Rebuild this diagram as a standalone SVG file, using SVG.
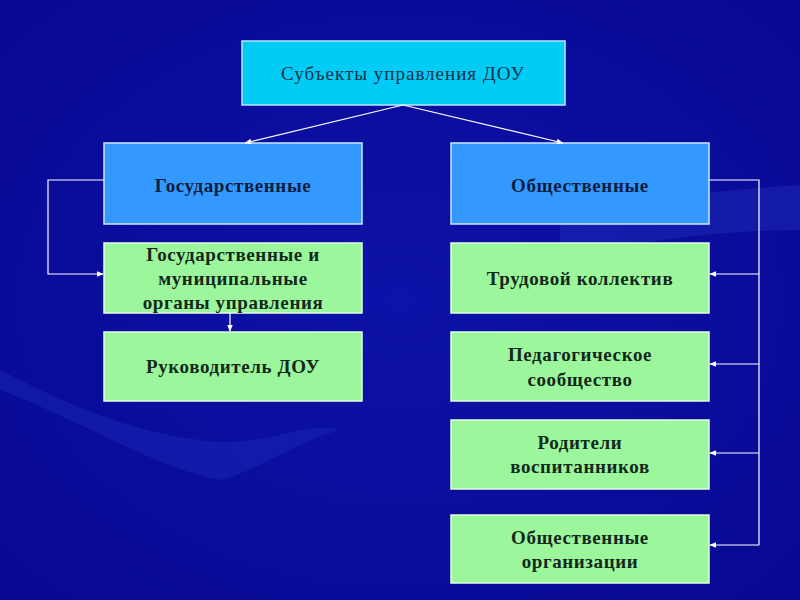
<svg xmlns="http://www.w3.org/2000/svg" width="800" height="600" viewBox="0 0 800 600">
<defs>
<radialGradient id="bg" cx="0.5" cy="0.5" r="0.8">
<stop offset="0" stop-color="#0d12a8"/>
<stop offset="1" stop-color="#07088f"/>
</radialGradient>
<marker id="ah" viewBox="0 0 10 10" refX="9" refY="5" markerWidth="7" markerHeight="7" orient="auto" markerUnits="userSpaceOnUse">
<path d="M0,1 L10,5 L0,9 z" fill="#ffffff"/>
</marker>
<style>
.top{fill:#00ccf5;stroke:#b8e8ff;stroke-width:1.5}
.blue{fill:#3399ff;stroke:#cce6ff;stroke-width:1.5}
.green{fill:#9cf79c;stroke:#e0ffe0;stroke-width:1.5}
.t{font-family:"Liberation Serif",serif;font-size:19px;letter-spacing:0.6px;text-anchor:middle;fill:#13281a;font-weight:bold}
.tt{font-family:"Liberation Serif",serif;font-size:19px;letter-spacing:1px;text-anchor:middle;fill:#15304a}
.tb{fill:#0c1e40}
.c{stroke:#ffffff;stroke-width:1.2;fill:none}
</style>
</defs>
<rect width="800" height="600" fill="url(#bg)"/>
<path d="M0,370 C60,400 120,430 200,440 C260,450 300,420 340,430 C300,440 260,470 220,480 C160,470 80,420 0,390 z" fill="#2030c0" opacity="0.35"/>
<path d="M560,210 C640,200 720,190 800,185 L800,230 C720,230 640,240 560,260 z" fill="#2a40c8" opacity="0.3"/>
<g id="n-top"><rect class="top" x="242" y="41" width="323" height="64"/><text class="tt" x="403" y="80">Субъекты управления ДОУ</text></g>
<g id="n-gos"><rect class="blue" x="104" y="143" width="258" height="81"/><text class="t tb" x="233" y="192">Государственные</text></g>
<g id="n-obs"><rect class="blue" x="451" y="143" width="258" height="81"/><text class="t tb" x="580" y="192">Общественные</text></g>
<g id="n-gmo"><rect class="green" x="104" y="243" width="258" height="70"/><text class="t" x="233" y="261">Государственные и</text><text class="t" x="233" y="285">муниципальные</text><text class="t" x="233" y="309">органы управления</text></g>
<g id="n-ruk"><rect class="green" x="104" y="332" width="258" height="69"/><text class="t" x="233" y="373">Руководитель ДОУ</text></g>
<g id="n-trud"><rect class="green" x="451" y="243" width="258" height="70"/><text class="t" x="580" y="285">Трудовой коллектив</text></g>
<g id="n-ped"><rect class="green" x="451" y="332" width="258" height="69"/><text class="t" x="580" y="361">Педагогическое</text><text class="t" x="580" y="386">сообщество</text></g>
<g id="n-rod"><rect class="green" x="451" y="420" width="258" height="69"/><text class="t" x="580" y="449">Родители</text><text class="t" x="580" y="473">воспитанников</text></g>
<g id="n-org"><rect class="green" x="451" y="515" width="258" height="68"/><text class="t" x="580" y="544">Общественные</text><text class="t" x="580" y="568">организации</text></g>
<g id="connectors">
<line class="c" x1="403" y1="105" x2="245" y2="143" marker-end="url(#ah)"/>
<line class="c" x1="403" y1="105" x2="563" y2="143" marker-end="url(#ah)"/>
<polyline class="c" points="104,180 48,180 48,274 103,274" marker-end="url(#ah)"/>
<line class="c" x1="230" y1="313" x2="230" y2="331" marker-end="url(#ah)"/>
<polyline class="c" points="709,180 759,180 759,545"/>
<line class="c" x1="759" y1="274" x2="710" y2="274" marker-end="url(#ah)"/>
<line class="c" x1="759" y1="364" x2="710" y2="364" marker-end="url(#ah)"/>
<line class="c" x1="759" y1="453" x2="710" y2="453" marker-end="url(#ah)"/>
<line class="c" x1="759" y1="545" x2="710" y2="545" marker-end="url(#ah)"/>
</g>
</svg>
